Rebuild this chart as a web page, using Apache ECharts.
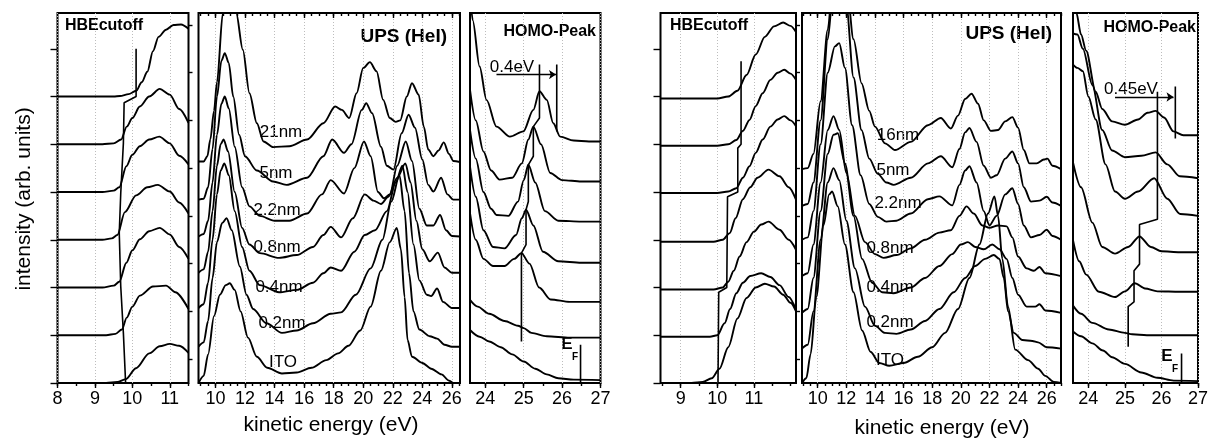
<!DOCTYPE html>
<html>
<head>
<meta charset="utf-8">
<script src="https://cdn.jsdelivr.net/npm/echarts@6/dist/echarts.min.js"></script>
<style>
  html, body { margin: 0; padding: 0; background: #fff; }
  #chart { width: 1211px; height: 438px; }
</style>
</head>
<body>
<div id="chart"></div>
<script>
// tick values
const ticksHbeLeft = [8, 9, 10, 11];
const ticksHbeRight = [9, 10, 11];
const ticksUps = [10, 12, 14, 16, 18, 20, 22, 24, 26];
const ticksHomo = [24, 25, 26, 27];
const ticksIntensity = [0, 1, 2, 3, 4, 5, 6, 7];
const minorIntensity = [0.5, 1.5, 2.5, 3.5, 4.5, 5.5, 6.5, 7.5];

const thickLeft = ['21nm', '5nm', '2.2nm', '0.8nm', '0.4nm', '0.2nm', 'ITO'];
const thickRight = ['16nm', '5nm', '2.2nm', '0.8nm', '0.4nm', '0.2nm', 'ITO'];

// ---- left set: HBE cutoff (energy, offset intensity) ----
const hbeL_21 = [[8,6.0],[9.5,6.0],[9.67,6.01],[9.9,6.05],[10.1,6.12],[10.25,6.3],[10.4,6.52],[10.55,6.95],[10.7,7.25],[10.9,7.4],[11.1,7.5],[11.3,7.51],[11.5,7.42]];
const hbeL_5 = [[8,5.0],[9.2,5.0],[9.5,5.02],[9.7,5.1],[9.85,5.37],[10.0,5.55],[10.2,5.79],[10.45,6.0],[10.73,6.16],[11.0,6.04],[11.25,5.74],[11.5,5.45]];
const hbeL_22 = [[8,4.0],[9.2,4.0],[9.5,4.03],[9.65,4.1],[9.84,4.54],[10.0,4.78],[10.2,4.96],[10.45,5.1],[10.72,5.16],[11.0,5.02],[11.25,4.76],[11.5,4.58]];
const hbeL_08 = [[8,3.0],[9.2,3.0],[9.45,3.03],[9.6,3.1],[9.8,3.58],[10.1,3.93],[10.4,4.1],[10.68,4.15],[11.0,4.01],[11.25,3.78],[11.5,3.55]];
const hbeL_04 = [[8,2.0],[9.2,2.0],[9.5,2.04],[9.65,2.12],[9.84,2.52],[10.0,2.78],[10.2,3.01],[10.45,3.18],[10.73,3.25],[11.0,3.11],[11.25,2.85],[11.5,2.6]];
const hbeL_02 = [[8,1.0],[9.3,1.0],[9.55,1.03],[9.72,1.12],[9.85,1.37],[10.0,1.6],[10.2,1.83],[10.55,2.02],[10.9,2.04],[11.15,1.9],[11.5,1.55]];
const hbeL_ito = [[8,0],[9.3,0],[9.6,0.02],[9.82,0.08],[10.1,0.31],[10.45,0.62],[10.73,0.77],[11.0,0.82],[11.25,0.78],[11.5,0.63]];
const cutoffL = [[10.1,7.0],[10.1,6.0],[9.78,5.87],[9.76,5.02],[9.69,3.98],[9.65,3.14],[9.69,2.02],[9.76,1.05],[9.82,0]];

// ---- left set: UPS overview ----
const upsL_21 = [[8.85,4.64],[9.2,4.64],[9.45,4.75],[9.65,5.1],[9.9,5.7],[10.1,6.3],[10.5,7.75],[10.9,9.2],[11.4,7.75],[11.85,6.98],[12.3,6.07],[12.8,5.44],[13.25,5.06],[13.9,4.94],[15.0,4.96],[16.2,5.1],[17.3,5.44],[18.1,5.79],[18.55,5.72],[19.05,5.55],[19.55,6.07],[20.0,6.6],[20.45,6.72],[20.9,6.53],[21.35,5.93],[21.8,5.55],[22.2,5.47],[22.5,5.5],[22.95,6.0],[23.3,6.28],[23.75,6.04],[24.1,5.37],[24.4,4.89],[24.75,4.75],[25.1,4.87],[25.45,5.04],[25.8,4.8],[26.1,4.65],[26.55,4.63]];
const upsL_5 = [[8.85,3.84],[9.2,3.86],[9.5,4.1],[9.8,4.9],[10.1,6.0],[10.4,6.75],[10.63,6.91],[10.9,6.7],[11.2,6.0],[11.6,5.2],[12.0,4.75],[12.8,4.45],[13.9,4.22],[14.8,4.15],[16.2,4.3],[17.3,4.75],[17.9,5.1],[18.7,4.82],[19.2,5.0],[19.9,5.72],[20.2,5.86],[20.6,5.65],[21.2,4.95],[21.6,4.55],[22.05,4.47],[22.6,5.23],[23.07,5.62],[23.5,5.35],[24.0,4.68],[24.4,4.15],[24.75,4.01],[25.27,4.3],[25.7,3.95],[26.1,3.84],[26.55,3.84]];
const upsL_22 = [[8.85,3.07],[9.2,3.12],[9.5,3.4],[9.8,4.2],[10.1,5.2],[10.4,5.85],[10.63,6.0],[10.9,5.75],[11.3,4.95],[11.8,4.1],[12.3,3.7],[13.0,3.5],[14.0,3.4],[15.0,3.4],[16.2,3.55],[17.2,3.95],[17.8,4.25],[18.7,3.97],[19.4,4.5],[20.05,5.06],[20.5,4.75],[21.0,4.0],[21.4,3.87],[21.8,3.95],[22.3,4.55],[22.88,5.06],[23.3,4.65],[23.8,3.65],[24.3,3.3],[24.75,3.3],[25.2,3.52],[25.6,3.2],[26.0,3.08],[26.55,3.07]];
const upsL_08 = [[8.85,2.31],[9.2,2.38],[9.5,2.75],[9.8,3.6],[10.1,4.55],[10.35,5.0],[10.55,5.1],[10.85,4.85],[11.3,4.0],[11.8,3.25],[12.3,2.9],[13.0,2.72],[14.3,2.62],[15.5,2.68],[16.6,2.85],[17.3,3.1],[17.8,3.27],[18.5,3.05],[19.3,3.45],[20.1,3.95],[20.7,3.82],[21.2,3.75],[21.7,3.9],[22.3,4.3],[22.85,4.6],[23.2,4.2],[23.6,3.4],[24.0,2.8],[24.5,2.55],[25.05,2.73],[25.5,2.42],[26.0,2.31],[26.55,2.31]];
const upsL_04 = [[8.85,1.57],[9.2,1.65],[9.5,2.1],[9.8,3.0],[10.1,3.95],[10.35,4.45],[10.6,4.6],[10.9,4.35],[11.3,3.6],[11.8,2.85],[12.3,2.35],[13.0,2.05],[14.3,1.9],[15.5,1.95],[16.6,2.1],[17.3,2.3],[17.8,2.42],[18.5,2.35],[19.4,2.75],[20.1,3.1],[20.8,3.2],[21.6,3.6],[22.2,4.2],[22.65,4.55],[23.0,4.0],[23.4,2.9],[23.8,2.15],[24.3,1.85],[24.6,1.82],[25.0,1.98],[25.4,1.7],[26.0,1.57],[26.55,1.57]];
const upsL_02 = [[8.85,0.76],[9.2,0.85],[9.5,1.3],[9.8,2.2],[10.1,2.95],[10.45,3.35],[10.75,3.45],[11.1,3.2],[11.65,2.44],[12.1,1.85],[12.55,1.55],[13.45,1.25],[14.5,1.05],[15.5,1.1],[16.6,1.25],[17.8,1.45],[18.5,1.48],[19.5,1.85],[20.5,2.4],[21.3,3.0],[21.9,3.8],[22.45,4.35],[22.8,3.6],[23.1,2.3],[23.4,1.5],[23.8,1.12],[24.5,0.98],[25.0,0.93],[25.5,0.8],[26.0,0.76],[26.55,0.76]];
const upsL_ito = [[8.85,0],[9.2,0.15],[9.5,0.6],[9.9,1.4],[10.3,1.85],[10.7,2.05],[10.97,2.09],[11.3,1.95],[11.7,1.5],[12.2,0.95],[12.8,0.55],[13.5,0.32],[14.5,0.2],[15.5,0.22],[16.5,0.32],[17.5,0.48],[18.3,0.62],[19.0,0.78],[19.8,1.1],[20.5,1.6],[21.2,2.35],[21.8,2.95],[22.27,3.25],[22.55,2.8],[22.8,1.8],[23.0,0.9],[23.3,0.55],[24.0,0.42],[24.6,0.3],[25.3,0.18],[25.8,0.05],[26.1,0],[26.55,0]];

// ---- left set: HOMO region ----
const homoL_21 = [[23.6,8.2],[23.67,7.6],[23.85,6.63],[24.03,5.93],[24.29,5.37],[24.64,5.16],[24.99,5.27],[25.25,5.72],[25.41,6.11],[25.6,5.93],[25.77,5.44],[25.95,5.16],[26.3,5.08],[26.7,5.06],[27,5.06]];
const homoL_5 = [[23.6,6.14],[23.75,5.5],[23.95,4.85],[24.15,4.45],[24.37,4.26],[24.7,4.3],[24.95,4.6],[25.12,5.1],[25.25,5.37],[25.45,5.0],[25.69,4.4],[26.0,4.25],[26.5,4.22],[27,4.22]];
const homoL_22 = [[23.6,5.3],[23.75,4.7],[23.95,4.0],[24.15,3.65],[24.29,3.52],[24.6,3.5],[24.85,3.8],[25.0,4.25],[25.12,4.57],[25.3,4.2],[25.55,3.6],[25.9,3.4],[26.5,3.38],[27,3.38]];
const homoL_08 = [[23.6,4.53],[23.75,3.9],[23.95,3.2],[24.2,2.85],[24.5,2.82],[24.8,3.1],[24.95,3.45],[25.06,3.63],[25.25,3.3],[25.5,2.75],[25.9,2.55],[26.5,2.52],[27,2.52]];
const homoL_04 = [[23.6,3.56],[23.75,3.0],[23.95,2.6],[24.2,2.45],[24.5,2.45],[24.75,2.6],[24.94,2.72],[25.15,2.5],[25.4,2.0],[25.7,1.75],[26.2,1.7],[27,1.7]];
const homoL_02 = [[23.6,1.74],[23.8,1.6],[24.1,1.45],[24.5,1.3],[24.85,1.2],[25.0,1.15],[25.2,1.05],[25.6,0.98],[26.2,0.95],[27,0.95]];
const homoL_ito = [[23.6,1.11],[23.85,0.97],[24.1,0.87],[24.4,0.75],[24.7,0.6],[25.0,0.45],[25.3,0.3],[25.6,0.18],[25.9,0.1],[26.3,0.07],[27,0.06]];
const homoShiftL = [[24.94,0.87],[24.94,2.72],[25.06,2.9],[25.06,3.63],[25.12,3.8],[25.12,4.57],[25.25,4.75],[25.25,5.37],[25.41,5.55],[25.41,6.67]];
const arrowL = [[24.29,6.46],[25.84,6.46]];
const barL = [[25.86,6.67],[25.86,5.27]];
const fermiL = [[26.48,0.8],[26.48,0]];

// ---- right set: HBE cutoff ----
const hbeR_16 = [[8.45,5.96],[10.0,5.96],[10.3,6.0],[10.55,6.12],[10.8,6.45],[11.05,6.88],[11.3,7.25],[11.55,7.47],[11.8,7.55],[12.0,7.48],[12.15,7.35]];
const hbeR_5 = [[8.45,4.97],[10.0,4.97],[10.3,5.0],[10.52,5.09],[10.7,5.28],[10.88,5.51],[11.05,5.8],[11.24,6.07],[11.45,6.35],[11.65,6.5],[11.83,6.56],[12.0,6.48],[12.15,6.35]];
const hbeR_22 = [[8.45,3.98],[10.0,3.98],[10.3,4.01],[10.52,4.08],[10.7,4.3],[10.88,4.54],[11.05,4.82],[11.24,5.1],[11.45,5.37],[11.65,5.52],[11.83,5.59],[12.0,5.5],[12.15,5.38]];
const hbeR_08 = [[8.45,2.96],[9.9,2.96],[10.15,3.0],[10.34,3.14],[10.5,3.45],[10.7,3.85],[10.9,4.1],[11.1,4.3],[11.4,4.47],[11.7,4.33],[11.95,4.1],[12.15,3.84]];
const hbeR_04 = [[8.45,1.96],[9.9,1.96],[10.15,2.0],[10.3,2.12],[10.45,2.35],[10.61,2.65],[10.8,2.95],[11.0,3.17],[11.2,3.32],[11.4,3.38],[11.7,3.21],[11.95,3.0],[12.15,2.79]];
const hbeR_02 = [[8.45,0.97],[9.8,0.97],[10.0,1.0],[10.2,1.25],[10.35,1.55],[10.52,1.88],[10.7,2.1],[10.9,2.24],[11.2,2.3],[11.45,2.22],[11.7,2.05],[11.95,1.8],[12.15,1.53]];
const hbeR_ito = [[8.45,0],[9.3,0],[9.6,0.02],[9.85,0.1],[10.06,0.3],[10.3,0.75],[10.55,1.35],[10.8,1.78],[11.05,2.0],[11.3,2.08],[11.55,2.02],[11.8,1.85],[12.0,1.68],[12.15,1.5]];
const cutoffR = [[10.65,6.74],[10.65,5.0],[10.56,4.92],[10.56,4.0],[10.28,3.9],[10.26,2.0],[10.04,1.9],[10.02,0]];

// ---- right set: UPS overview ----
const upsR_16 = [[8.9,4.48],[9.3,4.5],[9.7,4.8],[10.2,5.9],[10.7,7.4],[11.1,8.6],[11.6,9.4],[12.0,8.4],[12.5,7.2],[13.06,6.28],[13.6,5.7],[14.0,5.37],[14.7,5.02],[15.4,4.88],[16.5,5.05],[17.7,5.4],[18.6,5.55],[19.3,5.33],[19.8,5.6],[20.3,5.95],[20.75,6.06],[21.2,5.85],[21.6,5.5],[22.1,5.28],[22.6,5.3],[23.1,5.48],[23.6,5.57],[24.0,5.35],[24.4,4.88],[24.8,4.6],[25.3,4.6],[25.8,4.68],[26.05,4.7],[26.4,4.55],[27,4.48]];
const upsR_5 = [[8.9,3.71],[9.3,3.75],[9.7,4.2],[10.2,5.5],[10.7,7.2],[11.1,8.3],[11.6,8.7],[12.0,7.9],[12.5,6.4],[13.06,5.3],[13.6,4.7],[14.2,4.38],[14.8,4.2],[15.3,4.15],[16.5,4.3],[17.7,4.6],[18.6,4.75],[19.4,4.52],[19.9,4.9],[20.3,5.25],[20.6,5.34],[21.1,5.05],[21.6,4.55],[22.1,4.3],[22.5,4.35],[23.1,4.7],[23.6,4.85],[24.0,4.6],[24.4,4.1],[24.9,3.8],[25.5,3.82],[26.0,3.9],[26.4,3.78],[27,3.71]];
const upsR_22 = [[8.9,3.0],[9.3,3.05],[9.7,3.6],[10.2,5.0],[10.7,6.5],[11.2,7.05],[11.5,7.12],[11.9,6.6],[12.4,5.4],[13.0,4.35],[13.6,3.75],[14.2,3.48],[14.8,3.38],[15.5,3.4],[16.5,3.55],[17.7,3.85],[18.5,3.91],[19.4,3.72],[19.9,4.15],[20.3,4.45],[20.6,4.54],[21.1,4.2],[21.6,3.6],[22.0,3.3],[22.5,3.5],[23.1,3.95],[23.6,4.08],[24.0,3.75],[24.4,3.3],[24.9,3.05],[25.5,3.1],[26.0,3.21],[26.4,3.08],[27,3.0]];
const upsR_08 = [[8.9,2.24],[9.3,2.3],[9.7,2.9],[10.2,4.2],[10.7,5.3],[11.1,5.59],[11.5,5.3],[12.0,4.4],[12.6,3.5],[13.3,2.95],[14.0,2.7],[14.6,2.62],[15.5,2.68],[16.5,2.82],[17.5,3.0],[18.5,3.15],[19.3,3.2],[19.9,3.5],[20.4,3.7],[20.9,3.55],[21.5,3.3],[22.0,3.25],[22.6,3.3],[23.2,3.28],[23.6,3.05],[24.0,2.65],[24.6,2.4],[25.1,2.35],[25.5,2.43],[25.9,2.3],[27,2.24]];
const upsR_04 = [[8.9,1.47],[9.3,1.55],[9.7,2.2],[10.2,3.6],[10.7,4.8],[11.1,5.2],[11.4,5.23],[11.9,4.6],[12.5,3.5],[13.1,2.6],[13.8,2.1],[14.5,1.9],[15.3,1.88],[16.5,2.0],[17.5,2.2],[18.5,2.45],[19.4,2.7],[20.0,2.9],[20.5,2.95],[21.0,2.85],[21.6,2.8],[22.2,2.9],[22.7,2.8],[23.2,2.6],[23.6,2.2],[24.0,1.85],[24.6,1.6],[25.2,1.6],[25.5,1.65],[25.9,1.52],[27,1.47]];
const upsR_02 = [[8.9,0.72],[9.3,0.8],[9.7,1.5],[10.2,3.0],[10.7,4.2],[11.1,4.5],[11.5,4.25],[12.0,3.4],[12.6,2.4],[13.3,1.6],[14.0,1.2],[14.7,1.05],[15.5,1.03],[16.5,1.12],[17.5,1.3],[18.5,1.55],[19.5,1.9],[20.3,2.2],[21.0,2.45],[21.7,2.6],[22.3,2.68],[22.7,2.6],[23.0,2.2],[23.3,1.5],[23.7,1.05],[24.3,0.9],[25.0,0.88],[25.4,0.85],[26.0,0.75],[27,0.72]];
const upsR_ito = [[8.9,0],[9.2,0.1],[9.5,0.6],[9.9,1.8],[10.4,3.3],[10.8,3.95],[11.0,4.01],[11.4,3.7],[11.9,2.9],[12.5,1.9],[13.1,1.1],[13.7,0.65],[14.3,0.42],[15.0,0.36],[16.0,0.42],[17.0,0.55],[18.0,0.75],[18.9,1.05],[19.8,1.55],[20.6,2.2],[21.3,2.9],[21.9,3.55],[22.35,3.91],[22.6,3.5],[22.9,2.6],[23.3,1.6],[23.8,0.7],[24.7,0.48],[25.4,0.3],[25.9,0.15],[26.5,0.02],[27,0]];

// ---- right set: HOMO region ----
const homoR_16 = [[23.58,8.5],[23.67,7.76],[23.8,7.3],[23.94,6.96],[24.2,6.1],[24.38,5.74],[24.65,5.48],[25.0,5.41],[25.36,5.52],[25.62,5.66],[25.84,5.7],[26.07,5.56],[26.33,5.27],[26.6,5.19],[27,5.19]];
const homoR_5 = [[23.58,7.32],[23.7,7.3],[23.85,7.0],[24.11,6.24],[24.38,5.3],[24.65,4.87],[25.0,4.73],[25.45,4.76],[25.84,4.83],[26.16,4.58],[26.5,4.33],[27,4.29]];
const homoR_22 = [[23.58,6.67],[23.7,6.6],[23.85,6.53],[24.0,6.0],[24.2,5.52],[24.47,4.58],[24.73,4.01],[25.0,3.86],[25.36,4.01],[25.8,4.29],[26.16,3.86],[26.51,3.54],[27,3.5]];
const homoR_08 = [[23.58,4.62],[23.8,4.1],[24.11,3.36],[24.38,2.85],[24.73,2.71],[25.09,2.85],[25.4,3.07],[25.71,2.85],[26.0,2.76],[26.5,2.74],[27,2.74]];
const homoR_04 = [[23.58,2.99],[23.75,2.55],[23.94,2.27],[24.29,1.91],[24.73,1.8],[25.0,1.92],[25.27,2.09],[25.55,1.98],[25.89,1.92],[26.5,1.91],[27,1.91]];
const homoR_02 = [[23.58,1.62],[23.8,1.45],[24.11,1.26],[24.56,1.12],[25.0,1.05],[25.2,1.02],[25.6,1.0],[27,1.0]];
const homoR_ito = [[23.58,1.08],[23.8,0.98],[24.11,0.83],[24.4,0.68],[24.65,0.54],[25.0,0.4],[25.45,0.22],[25.89,0.11],[26.33,0.05],[27,0.04]];
const homoShiftR = [[25.89,6.1],[25.89,3.43],[25.4,3.32],[25.4,2.49],[25.25,2.35],[25.25,1.7],[25.09,1.6],[25.09,0.76]];
const arrowR = [[24.73,5.99],[26.33,5.99]];
const barR = [[26.38,6.21],[26.38,5.12]];
const fermiR = [[26.55,0.62],[26.55,0]];

const FONT = '"Liberation Sans", Arial, sans-serif';
const BLACK = '#000';

const panels = [
  { left: 57.5, width: 131, min: 8, max: 11.5, ticks: ticksHbeLeft, topTicks: false, yTicks: true,
    curves: [hbeL_21, hbeL_5, hbeL_22, hbeL_08, hbeL_04, hbeL_02, hbeL_ito], marks: [cutoffL] },
  { left: 198.5, width: 261.5, min: 8.85, max: 26.55, ticks: ticksUps, topTicks: true, yTicks: false,
    curves: [upsL_21, upsL_5, upsL_22, upsL_08, upsL_04, upsL_02, upsL_ito], marks: [] },
  { left: 470, width: 130.5, min: 23.6, max: 27, ticks: ticksHomo, topTicks: false, yTicks: false,
    curves: [homoL_21, homoL_5, homoL_22, homoL_08, homoL_04, homoL_02, homoL_ito], marks: [homoShiftL, barL, fermiL], arrow: arrowL },
  { left: 660.5, width: 135.5, min: 8.45, max: 12.15, ticks: ticksHbeRight, topTicks: false, yTicks: true,
    curves: [hbeR_16, hbeR_5, hbeR_22, hbeR_08, hbeR_04, hbeR_02, hbeR_ito], marks: [cutoffR] },
  { left: 802, width: 259, min: 8.9, max: 27, ticks: ticksUps, topTicks: true, yTicks: false,
    curves: [upsR_16, upsR_5, upsR_22, upsR_08, upsR_04, upsR_02, upsR_ito], marks: [] },
  { left: 1073, width: 127.5, min: 23.58, max: 27, ticks: ticksHomo, topTicks: false, yTicks: false,
    curves: [homoR_16, homoR_5, homoR_22, homoR_08, homoR_04, homoR_02, homoR_ito], marks: [homoShiftR, barR, fermiR], arrow: arrowR }
];

function halfSteps(min, max) {
  const out = [];
  for (let v = Math.ceil(min * 2) / 2; v <= max + 1e-9; v += 0.5) out.push(+v.toFixed(2));
  return out;
}

const tickLine = { color: BLACK, width: 1.4 };
const grids = [], xAxes = [], yAxes = [], series = [];

panels.forEach((p, i) => {
  grids.push({ left: p.left, top: 13, width: p.width, height: 370, show: true,
    borderColor: BLACK, borderWidth: 2, backgroundColor: 'transparent' });

  const xi = xAxes.length;
  xAxes.push({
    gridIndex: i, type: 'value', min: p.min, max: p.max, position: 'bottom',
    axisLine: { show: false },
    axisTick: { show: true, inside: false, length: 5, customValues: p.ticks, lineStyle: tickLine },
    axisLabel: { show: true, customValues: p.ticks, margin: 7, color: BLACK, fontSize: 18, fontFamily: FONT },
    splitLine: { show: true, lineStyle: { color: '#bdbdbd', type: [1, 2], width: 1 } }
  });
  xAxes.push({
    gridIndex: i, type: 'value', min: p.min, max: p.max, position: 'bottom',
    axisLine: { show: false }, axisLabel: { show: false }, splitLine: { show: false },
    axisTick: { show: true, inside: false, length: 3, customValues: halfSteps(p.min, p.max), lineStyle: tickLine }
  });
  if (p.topTicks) {
    xAxes.push({
      gridIndex: i, type: 'value', min: p.min, max: p.max, position: 'top',
      axisLine: { show: false }, axisLabel: { show: false }, splitLine: { show: false },
      axisTick: { show: true, inside: true, length: 5, customValues: p.ticks, lineStyle: tickLine }
    });
    xAxes.push({
      gridIndex: i, type: 'value', min: p.min, max: p.max, position: 'top',
      axisLine: { show: false }, axisLabel: { show: false }, splitLine: { show: false },
      axisTick: { show: true, inside: true, length: 3, customValues: halfSteps(p.min, p.max), lineStyle: tickLine }
    });
  }

  const yi = yAxes.length;
  yAxes.push({
    gridIndex: i, type: 'value', min: 0, max: 7.75, show: p.yTicks,
    axisLine: { show: false }, axisLabel: { show: false }, splitLine: { show: false },
    axisTick: { show: true, inside: false, length: 7, customValues: ticksIntensity, lineStyle: tickLine }
  });
  if (p.yTicks) {
    yAxes.push({
      gridIndex: i, type: 'value', min: 0, max: 7.75,
      axisLine: { show: false }, axisLabel: { show: false }, splitLine: { show: false },
      axisTick: { show: true, inside: false, length: 4, customValues: minorIntensity, lineStyle: tickLine }
    });
  }

  p.curves.forEach(d => series.push({
    type: 'line', xAxisIndex: xi, yAxisIndex: yi, data: d, symbol: 'none', silent: true,
    smooth: 0.3, smoothMonotone: 'x', clip: true, lineStyle: { color: BLACK, width: 1.9 }
  }));
  p.marks.forEach(d => series.push({
    type: 'line', xAxisIndex: xi, yAxisIndex: yi, data: d, symbol: 'none', silent: true,
    smooth: false, clip: true, lineStyle: { color: BLACK, width: 1.6 }
  }));
  if (p.arrow) {
    series.push({
      type: 'lines', coordinateSystem: 'cartesian2d', xAxisIndex: xi, yAxisIndex: yi, silent: true,
      symbol: ['none', 'arrow'], symbolSize: 7,
      lineStyle: { color: BLACK, width: 1.3, opacity: 1 },
      data: [{ coords: p.arrow }]
    });
  }
});

function txt(x, y, text, font, align) {
  return { type: 'text', x, y, silent: true,
    style: { text, font, fill: BLACK, align: align || 'center', verticalAlign: 'middle' } };
}
const boldTitle = 'bold 16px ' + FONT;
const boldUps = 'bold 19px ' + FONT;
const lab = '17px ' + FONT;
const axisFont = '21px ' + FONT;
const labelPosLeft = [[281, 132], [276, 173], [277, 210], [277, 247], [279, 287], [282, 323], [283, 362]];
const labelPosRight = [[898, 135], [893, 170], [898, 203], [890, 248], [890, 287], [890, 322], [890, 360]];

const graphic = [
  txt(104, 26, 'HBEcutoff', boldTitle),
  txt(447, 37, 'UPS (HeI)', boldUps, 'right'),
  txt(596, 32, 'HOMO-Peak', boldTitle, 'right'),
  txt(709, 26, 'HBEcutoff', boldTitle),
  txt(1052, 34, 'UPS (HeI)', boldUps, 'right'),
  txt(1196, 28, 'HOMO-Peak', boldTitle, 'right'),
  txt(512, 67, '0.4eV', lab),
  txt(1131, 89, '0.45eV', lab),
  txt(567, 344, 'E', 'bold 17px ' + FONT),
  txt(575, 357, 'F', 'bold 10px ' + FONT),
  txt(1167, 356, 'E', 'bold 17px ' + FONT),
  txt(1175, 369, 'F', 'bold 10px ' + FONT),
  txt(331, 425, 'kinetic energy (eV)', axisFont),
  txt(942, 428, 'kinetic energy (eV)', axisFont),
  Object.assign(txt(24, 199, 'intensity (arb. units)', axisFont), { rotation: Math.PI / 2 })
];
thickLeft.forEach((t, k) => graphic.push(txt(labelPosLeft[k][0], labelPosLeft[k][1], t, lab)));
thickRight.forEach((t, k) => graphic.push(txt(labelPosRight[k][0], labelPosRight[k][1], t, lab)));

const chart = echarts.init(document.getElementById('chart'), null, { renderer: 'canvas' });
chart.setOption({
  animation: false,
  backgroundColor: '#fff',
  grid: grids,
  xAxis: xAxes,
  yAxis: yAxes,
  series,
  graphic
});
</script>
</body>
</html>
